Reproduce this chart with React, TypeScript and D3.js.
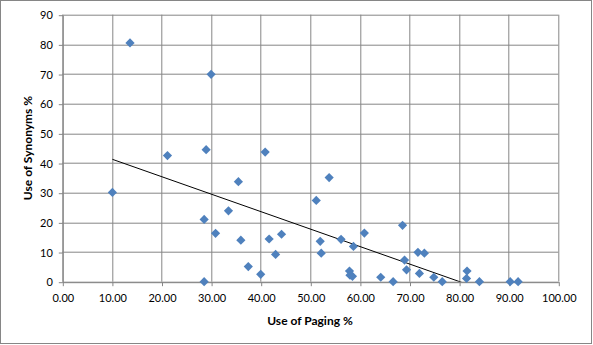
import React, { useEffect, useRef } from 'react';
import * as d3 from 'd3';

// Use of Paging % (x) vs Use of Synonyms % (y)
const pagingPct = [
  13.65, 30.0, 10.1, 21.2, 29.0, 40.9, 35.5, 33.5, 28.6, 30.9, 36.0, 41.7, 44.2, 43.0,
  37.5, 40.0, 28.6, 53.8, 51.2, 52.0, 52.2, 56.2, 58.7, 60.9, 68.6, 57.9, 58.0, 58.5,
  64.2, 66.7, 69.0, 69.4, 71.7, 73.0, 72.0, 74.9, 76.6, 81.6, 81.5, 84.1, 90.3, 91.9,
];
const synonymsPct = [
  80.5, 69.9, 30.1, 42.5, 44.5, 43.7, 33.7, 23.9, 21.0, 16.3, 14.0, 14.4, 16.0, 9.2,
  5.1, 2.5, 0, 35.1, 27.4, 13.6, 9.6, 14.3, 11.9, 16.4, 19.0, 3.6, 2.2, 1.8,
  1.5, 0, 7.3, 4.0, 9.9, 9.6, 2.8, 1.5, 0, 3.6, 1.1, 0, 0, 0,
];
const xTicks = [0, 10, 20, 30, 40, 50, 60, 70, 80, 90, 100];
const yTicks = [0, 10, 20, 30, 40, 50, 60, 70, 80, 90];

const width = 593;
const height = 345;

const App = () => {
  const svgRef = useRef<SVGSVGElement | null>(null);

  useEffect(() => {
    if (!svgRef.current) return;
    const svg = d3.select(svgRef.current);
    svg.selectAll('*').remove();

    const margin = { top: 14.7, right: 34.7, bottom: 63.3, left: 62.3 };
    const innerWidth = width - margin.left - margin.right;
    const innerHeight = height - margin.top - margin.bottom;
    const font = 'Lato, Carlito, Calibri, sans-serif';
    const grid = '#868686';

    // chart border
    svg.append('rect')
      .attr('x', 0.5).attr('y', 0.5)
      .attr('width', 591).attr('height', 343)
      .attr('fill', 'white')
      .attr('stroke', grid);

    const x = d3.scaleLinear().domain([0, 100]).range([0, innerWidth]);
    const y = d3.scaleLinear().domain([0, 90]).range([innerHeight, 0]);

    const g = svg.append('g')
      .attr('transform', `translate(${margin.left}, ${margin.top})`);

    svg.append('clipPath').attr('id', 'plot-clip')
      .append('rect').attr('width', innerWidth).attr('height', innerHeight);

    // gridlines
    g.selectAll('.vgrid')
      .data(xTicks)
      .join('line')
      .attr('x1', d => Math.round(x(d)) + 0.5).attr('x2', d => Math.round(x(d)) + 0.5)
      .attr('y1', 0).attr('y2', innerHeight)
      .attr('stroke', grid);
    g.selectAll('.hgrid')
      .data(yTicks)
      .join('line')
      .attr('y1', d => Math.round(y(d)) + 0.5).attr('y2', d => Math.round(y(d)) + 0.5)
      .attr('x1', 0).attr('x2', innerWidth)
      .attr('stroke', grid);

    // axes
    const xAxis = g.append('g')
      .attr('transform', `translate(0.5, ${Math.round(innerHeight) + 0.5})`)
      .call(d3.axisBottom(x).tickValues(xTicks).tickSize(4).tickSizeOuter(0).tickFormat(d => (d as number).toFixed(2)));
    const yAxis = g.append('g')
      .attr('transform', 'translate(0.5, 0.5)')
      .call(d3.axisLeft(y).tickValues(yTicks).tickSize(4).tickSizeOuter(0).tickFormat(d3.format('d')));
    [xAxis, yAxis].forEach(a => {
      a.select('.domain').attr('stroke', grid);
      a.selectAll('.tick line').attr('stroke', grid);
      a.selectAll('.tick text')
        .attr('fill', '#000')
        .style('font-family', font)
        .style('font-size', '11px');
    });
    xAxis.selectAll('.tick text').attr('dy', '0.71em').attr('y', 12);
    yAxis.selectAll('.tick text').attr('x', -10);

    // trendline (least squares)
    const n = pagingPct.length;
    const mx = d3.mean(pagingPct) as number;
    const my = d3.mean(synonymsPct) as number;
    let sxy = 0;
    let sxx = 0;
    for (let i = 0; i < n; i++) {
      sxy += (pagingPct[i] - mx) * (synonymsPct[i] - my);
      sxx += (pagingPct[i] - mx) ** 2;
    }
    const slope = sxy / sxx;
    const intercept = my - slope * mx;
    const [xmin, xmax] = d3.extent(pagingPct) as [number, number];
    g.append('path')
      .datum([xmin, xmax])
      .attr('clip-path', 'url(#plot-clip)')
      .attr('fill', 'none')
      .attr('stroke', '#000')
      .attr('stroke-width', 1)
      .attr('d', d3.line<number>().x(d => x(d)).y(d => y(intercept + slope * d)));

    // points
    g.selectAll('.pt')
      .data(pagingPct.map((v, i) => [v, synonymsPct[i]]))
      .join('path')
      .attr('d', 'M0,-4.6L4.6,0L0,4.6L-4.6,0Z')
      .attr('transform', d => `translate(${x(d[0])},${y(d[1])})`)
      .attr('fill', '#4F81BD');

    // axis titles
    svg.append('text')
      .attr('x', 310)
      .attr('y', 325)
      .attr('text-anchor', 'middle')
      .style('font-family', font)
      .style('font-size', '12px')
      .style('font-weight', 'bold')
      .text('Use of Paging %');
    svg.append('text')
      .attr('transform', 'rotate(-90)')
      .attr('x', -148)
      .attr('y', 32)
      .attr('text-anchor', 'middle')
      .style('font-family', font)
      .style('font-size', '12px')
      .style('font-weight', 'bold')
      .text('Use of Synonyms %');
  }, []);

  return (
    <svg ref={svgRef} width={width} height={height}
      style={{ position: 'absolute', left: 0, top: 0, display: 'block' }} />
  );
};

export default App;
